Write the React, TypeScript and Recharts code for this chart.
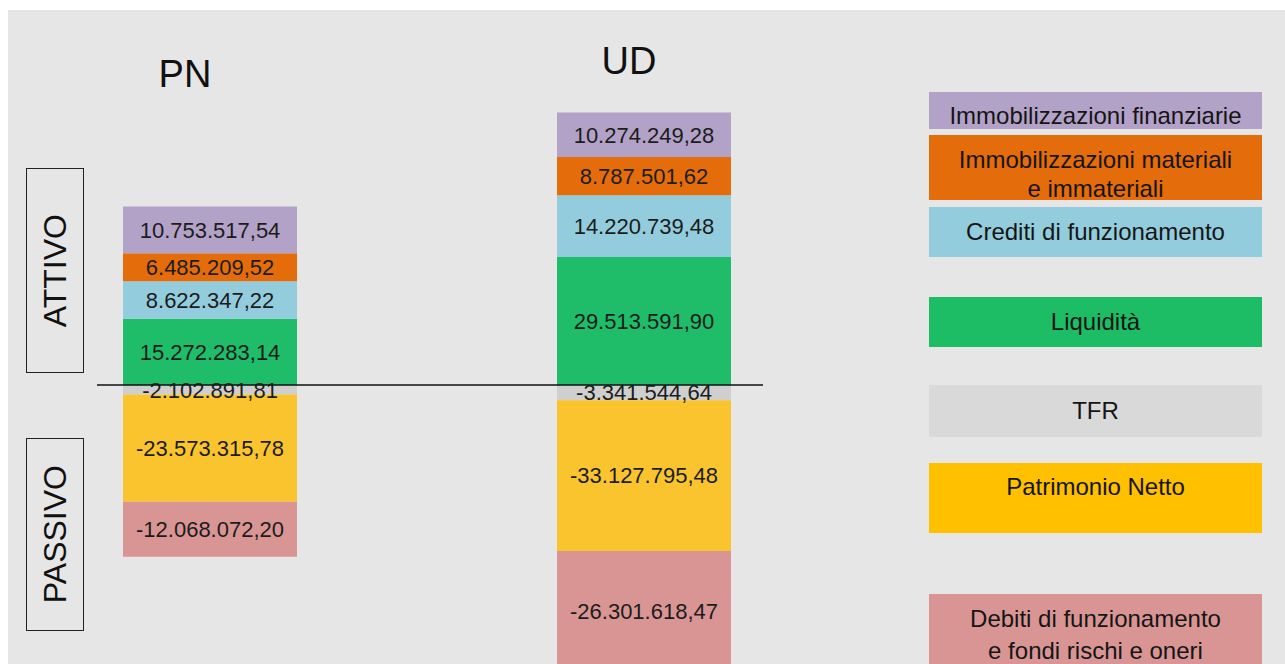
import React from 'react';
import { BarChart, Bar, XAxis, YAxis, ReferenceLine, LabelList } from 'recharts';

const categories = ['PN', 'UD'];

// ATTIVO (stacked from the zero line upwards)
const liquidita = [15272283.14, 29513591.9];
const creditiFunzionamento = [8622347.22, 14220739.48];
const immobMateriali = [6485209.52, 8787501.62];
const immobFinanziarie = [10753517.54, 10274249.28];

// PASSIVO (stacked from the zero line downwards)
const tfr = [-2102891.81, -3341544.64];
const patrimonioNetto = [-23573315.78, -33127795.48];
const debitiFunzionamento = [-12068072.2, -26301618.47];

const attivoSeries = [
  { key: 'liq', name: 'Liquidità', values: liquidita, color: '#1fbd6a' },
  { key: 'cred', name: 'Crediti di funzionamento', values: creditiFunzionamento, color: '#93cddd' },
  { key: 'mat', name: 'Immobilizzazioni materiali\ne immateriali', values: immobMateriali, color: '#e46c0a' },
  { key: 'fin', name: 'Immobilizzazioni finanziarie', values: immobFinanziarie, color: '#b3a2c7' },
];

const passivoSeries = [
  { key: 'tfr', name: 'TFR', values: tfr, color: '#cfcfcf' },
  { key: 'pn', name: 'Patrimonio Netto', values: patrimonioNetto, color: '#f9c42e' },
  { key: 'deb', name: 'Debiti di funzionamento\ne fondi rischi e oneri', values: debitiFunzionamento, color: '#d99594' },
];

// legend order, top to bottom
const legendOrder = ['fin', 'mat', 'cred', 'liq', 'tfr', 'pn', 'deb'];
const legendColors: Record<string, string> = {
  fin: '#b3a2c7', mat: '#e46c0a', cred: '#93cddd', liq: '#1dbd66',
  tfr: '#d9d9d9', pn: '#ffc000', deb: '#d99594',
};
const legendLayout: Record<string, { top: number; height: number; pad?: number; lh: number }> = {
  fin: { top: 82, height: 37, pad: 10, lh: 28 },
  mat: { top: 125, height: 65, pad: 10, lh: 29 },
  cred: { top: 197, height: 50, lh: 28 },
  liq: { top: 287, height: 50, lh: 28 },
  tfr: { top: 375, height: 52, lh: 28 },
  pn: { top: 453, height: 70, pad: 10, lh: 28 },
  deb: { top: 584, height: 90, pad: 9, lh: 32 },
};

const W = 1277;
const H = 700;
const MARGIN = { top: 70, right: 522, bottom: 10, left: 89 };
const X_DOMAIN = [-0.2604, 1.2742];
const POS_DOMAIN = [-72580000, 70276000];
const NEG_DOMAIN = [-69230000, 67033000];

const fmt = (v: any) => {
  const n = Number(v);
  const neg = n < 0;
  const [int, dec] = Math.abs(n).toFixed(2).split('.');
  const grouped = int.replace(/\B(?=(\d{3})+(?!\d))/g, '.');
  return (neg ? '-' : '') + grouped + ',' + dec;
};

const buildRows = (series: typeof attivoSeries) =>
  categories.map((name, i) => {
    const row: Record<string, any> = { name, idx: i };
    series.forEach((s) => (row[s.key] = s.values[i]));
    return row;
  });

const StackChart = ({ series, domain, zeroLine }: { series: typeof attivoSeries; domain: number[]; zeroLine?: boolean }) => (
  <div style={{ position: 'absolute', left: 0, top: 0 }}>
    <BarChart width={W} height={H} data={buildRows(series)} margin={MARGIN}>
      <XAxis type="number" dataKey="idx" domain={X_DOMAIN} ticks={[0, 1]} allowDataOverflow hide />
      <YAxis type="number" domain={domain} allowDataOverflow hide />
      {series.map((s) => (
        <Bar key={s.key} dataKey={s.key} name={s.name} stackId="s" fill={s.color} barSize={174} isAnimationActive={false}>
          <LabelList dataKey={s.key} position="center" formatter={fmt} fill="#1c1c1c" fontSize={22} />
        </Bar>
      ))}
      {zeroLine && <ReferenceLine y={0} stroke="#111" strokeWidth={1.5} />}
    </BarChart>
  </div>
);

const allSeries = [...attivoSeries, ...passivoSeries];

const sideBox = (label: string, top: number, height: number) => (
  <div
    style={{
      position: 'absolute', left: 18, top, width: 58, height, boxSizing: 'border-box',
      border: '1.5px solid #222', display: 'flex', alignItems: 'center', justifyContent: 'center',
    }}
  >
    <span style={{ writingMode: 'vertical-rl', transform: 'rotate(180deg)', fontSize: 32, color: '#111' }}>{label}</span>
  </div>
);

export default function App() {
  return (
    <div
      style={{
        position: 'fixed', left: 8, top: 10, width: W, height: 654, overflow: 'hidden',
        background: '#e6e6e6', fontFamily: "'Liberation Sans', Arial, sans-serif",
      }}
    >
      <div style={{ position: 'absolute', left: 117, top: 45, width: 120, textAlign: 'center', fontSize: 38, lineHeight: 1, color: '#111' }}>
        {categories[0]}
      </div>
      <div style={{ position: 'absolute', left: 561, top: 32, width: 120, textAlign: 'center', fontSize: 38, lineHeight: 1, color: '#111' }}>
        {categories[1]}
      </div>

      {sideBox('ATTIVO', 158, 205)}
      {sideBox('PASSIVO', 428, 193)}

      <StackChart series={attivoSeries} domain={POS_DOMAIN} />
      <StackChart series={passivoSeries} domain={NEG_DOMAIN} zeroLine />

      {legendOrder.map((k) => {
        const s = allSeries.find((x) => x.key === k)!;
        const l = legendLayout[k];
        return (
          <div
            key={k}
            style={{
              position: 'absolute', left: 921, top: l.top, width: 333, height: l.height, boxSizing: 'border-box',
              background: legendColors[k], display: 'flex', justifyContent: 'center',
              alignItems: l.pad === undefined ? 'center' : 'flex-start', paddingTop: l.pad ?? 0,
            }}
          >
            <div style={{ fontSize: 24, lineHeight: `${l.lh}px`, color: '#151515', textAlign: 'center', whiteSpace: 'pre-line' }}>
              {s.name}
            </div>
          </div>
        );
      })}
    </div>
  );
}
